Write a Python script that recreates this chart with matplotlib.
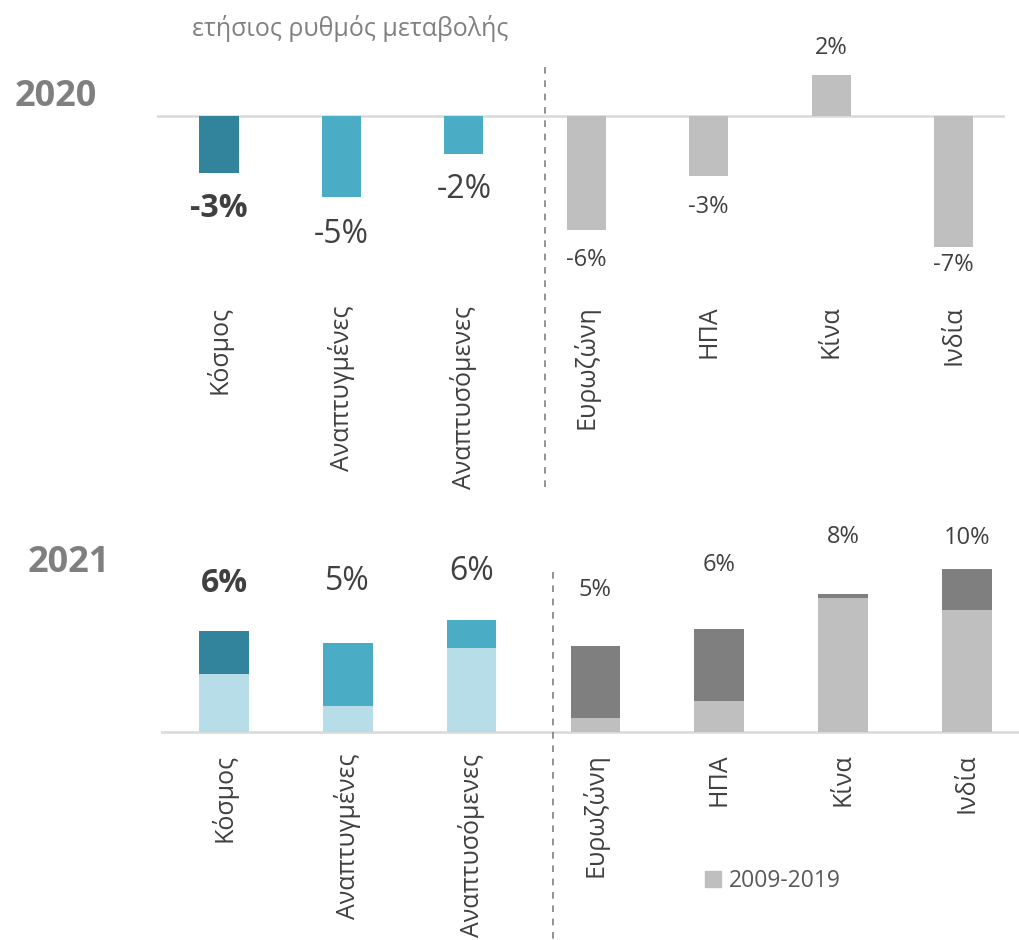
import matplotlib
matplotlib.use('Agg')
import matplotlib.pyplot as plt
from matplotlib.patches import Patch

plt.rcParams['font.family'] = ['Open Sans', 'DejaVu Sans']

# data (annual % change)
categories = ['Κόσμος', 'Αναπτυγμένες', 'Αναπτυσόμενες',
              'Ευρωζώνη', 'ΗΠΑ', 'Κίνα', 'Ινδία']
growth_2020 = [-3.3, -4.7, -2.2, -6.6, -3.5, 2.4, -7.6]
growth_2021 = [5.9, 5.2, 6.5, 5.0, 6.0, 8.0, 9.5]
avg_2009_2019 = [3.4, 1.5, 4.9, 0.8, 1.8, 7.8, 7.1]
labels_2020 = ['-3%', '-5%', '-2%', '-6%', '-3%', '2%', '-7%']
labels_2021 = ['6%', '5%', '6%', '5%', '6%', '8%', '10%']

# label distance from bar end (points) - placed by hand in the original
gap_2020 = [26, 27, 26, 22, 22, 19, 13]
gap_2021 = [34, 44, 35, 40, 46, 41, 22]

# colours
dark_teal = '#31849B'
teal = '#4BACC6'
light_teal = '#B7DEE8'
grey = '#BFBFBF'
dark_grey = '#7F7F7F'
text_col = '#404040'

top_cols = [dark_teal, teal, teal, grey, grey, grey, grey]
base_cols = [light_teal] * 3 + [grey] * 4
upper_cols = [dark_teal, teal, teal] + [dark_grey] * 4

W, H = 1020, 940
fig = plt.figure(figsize=(W / 100, H / 100), dpi=100)


def px_box(x0, y0, x1, y1):
    return [x0 / W, 1 - y1 / H, (x1 - x0) / W, (y1 - y0) / H]


ax1 = fig.add_axes(px_box(157, 40, 1005, 300))
ax2 = fig.add_axes(px_box(161, 520, 1020, 748))

px_per_pct = 17.2
x = list(range(len(categories)))


def value_label(ax, i, v, lab, gap):
    big = i < 3
    ax.annotate(lab, (i, v), xytext=(0, gap if v > 0 else -gap),
                textcoords='offset points', ha='center', va='center',
                fontsize=23 if big else 17,
                fontweight='bold' if i == 0 else 'normal', color=text_col)


# --- 2020 ---
ax1.bar(x, growth_2020, width=0.32, color=top_cols, zorder=2)
ax1.set_xlim(-0.506, 6.42)
ax1.set_ylim(-(300 - 116) / px_per_pct, (116 - 40) / px_per_pct)
for i, v in enumerate(growth_2020):
    value_label(ax1, i, v, labels_2020[i], gap_2020[i])

# --- 2021 ---
upper = [t - a for t, a in zip(growth_2021, avg_2009_2019)]
ax2.bar(x, avg_2009_2019, width=0.40, color=base_cols, zorder=2)
ax2.bar(x, upper, bottom=avg_2009_2019, width=0.40, color=upper_cols, zorder=2)
ax2.set_xlim(-0.509, 6.43)
ax2.set_ylim(-(748 - 732) / px_per_pct, (732 - 520) / px_per_pct)
for i, v in enumerate(growth_2021):
    value_label(ax2, i, v, labels_2021[i], gap_2021[i])

for ax, (y0, y1) in [(ax1, (0.896, -0.731)), (ax2, (0.772, -0.842))]:
    ax.axhline(0, color='#D9D9D9', lw=1.8, zorder=1)
    ax.plot([2.66, 2.66], [y0, y1], transform=ax.get_xaxis_transform(),
            clip_on=False, color=dark_grey, lw=1.2, ls=(0, (4, 4)))
    for s in ax.spines.values():
        s.set_visible(False)
    ax.set_yticks([])
    ax.set_xticks(x)
    ax.set_xticklabels(categories, rotation=90, va='top', ha='center',
                       fontsize=18, color=text_col)
    ax.tick_params(axis='x', length=0, pad=4)

fig.text(192 / W, 1 - 28 / H, 'ετήσιος ρυθμός μεταβολής', fontsize=18,
         color='#808080', ha='left', va='center')
fig.text(15 / W, 1 - 97 / H, '2020', fontsize=26, fontweight='bold',
         color=dark_grey, ha='left', va='center')
fig.text(28 / W, 1 - 563 / H, '2021', fontsize=26, fontweight='bold',
         color=dark_grey, ha='left', va='center')

fig.legend(handles=[Patch(color=grey)], labels=['2009-2019'],
           loc='center left', bbox_to_anchor=(705 / W, 1 - 881 / H),
           frameon=False, fontsize=16.5, handlelength=0.7, handleheight=0.7,
           handletextpad=0.35, borderpad=0, borderaxespad=0,
           labelcolor='#595959')

fig.savefig('out.png', dpi=100)
